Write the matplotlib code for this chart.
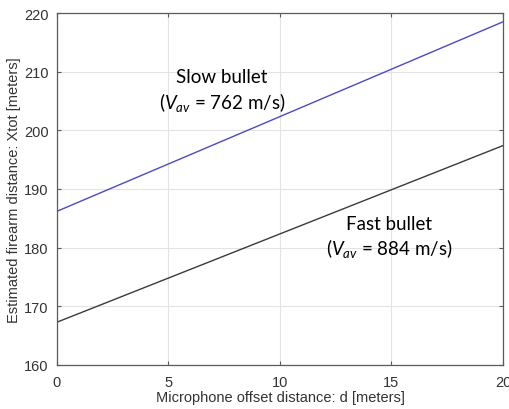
import matplotlib
matplotlib.use("Agg")
import matplotlib.pyplot as plt
import numpy as np

plt.rcParams['mathtext.fontset'] = 'custom'
plt.rcParams['mathtext.it'] = 'Lato:italic'
plt.rcParams['mathtext.rm'] = 'Lato'

d = [0, 20]
slow_bullet = [186.2, 218.5]
fast_bullet = [167.3, 197.4]
xticks = [0, 5, 10, 15, 20]
yticks = [160, 170, 180, 190, 200, 210, 220]

fig = plt.figure(figsize=(5.1, 4.1), dpi=100)
ax = fig.add_axes([57/510, 44/410, 446/510, 352/410])

ax.plot(d, slow_bullet, color='#4a4ac6', lw=1.0)
ax.plot(d, fast_bullet, color='#3a3a3a', lw=1.0)

ax.set_xlim(0, 20)
ax.set_ylim(160, 220)
ax.set_xticks(xticks)
ax.set_yticks(yticks)
ax.grid(True, color='#e3e3e3', lw=0.8)
ax.set_axisbelow(True)
ax.tick_params(direction='in', length=3, top=True, right=True, colors='#5a5a5a',
               labelsize=10.5, labelcolor='#333333')
ax.tick_params(axis='x', pad=7)
ax.tick_params(axis='y', pad=6)
for lbl in ax.get_xticklabels() + ax.get_yticklabels():
    lbl.set_fontfamily('Liberation Sans')
for s in ax.spines.values():
    s.set_color('#5a5a5a')
    s.set_linewidth(0.9)

ax.set_xlabel('Microphone offset distance: d [meters]', fontsize=10.5,
              family='Liberation Sans', color='#333333', labelpad=1)
ax.set_ylabel('Estimated firearm distance: Xtot [meters]', fontsize=10.5,
              family='Liberation Sans', color='#333333', labelpad=2)

ax.text(7.4, 209.1, 'Slow bullet', ha='center', va='center', fontsize=13.5, family='Lato')
ax.text(7.4, 205.0, r'($V_{av}$ = 762 m/s)', ha='center', va='center', fontsize=13.5, family='Lato')
ax.text(14.9, 184.1, 'Fast bullet', ha='center', va='center', fontsize=13.5, family='Lato')
ax.text(14.9, 180.1, r'($V_{av}$ = 884 m/s)', ha='center', va='center', fontsize=13.5, family='Lato')

fig.savefig('out.png', dpi=100)
